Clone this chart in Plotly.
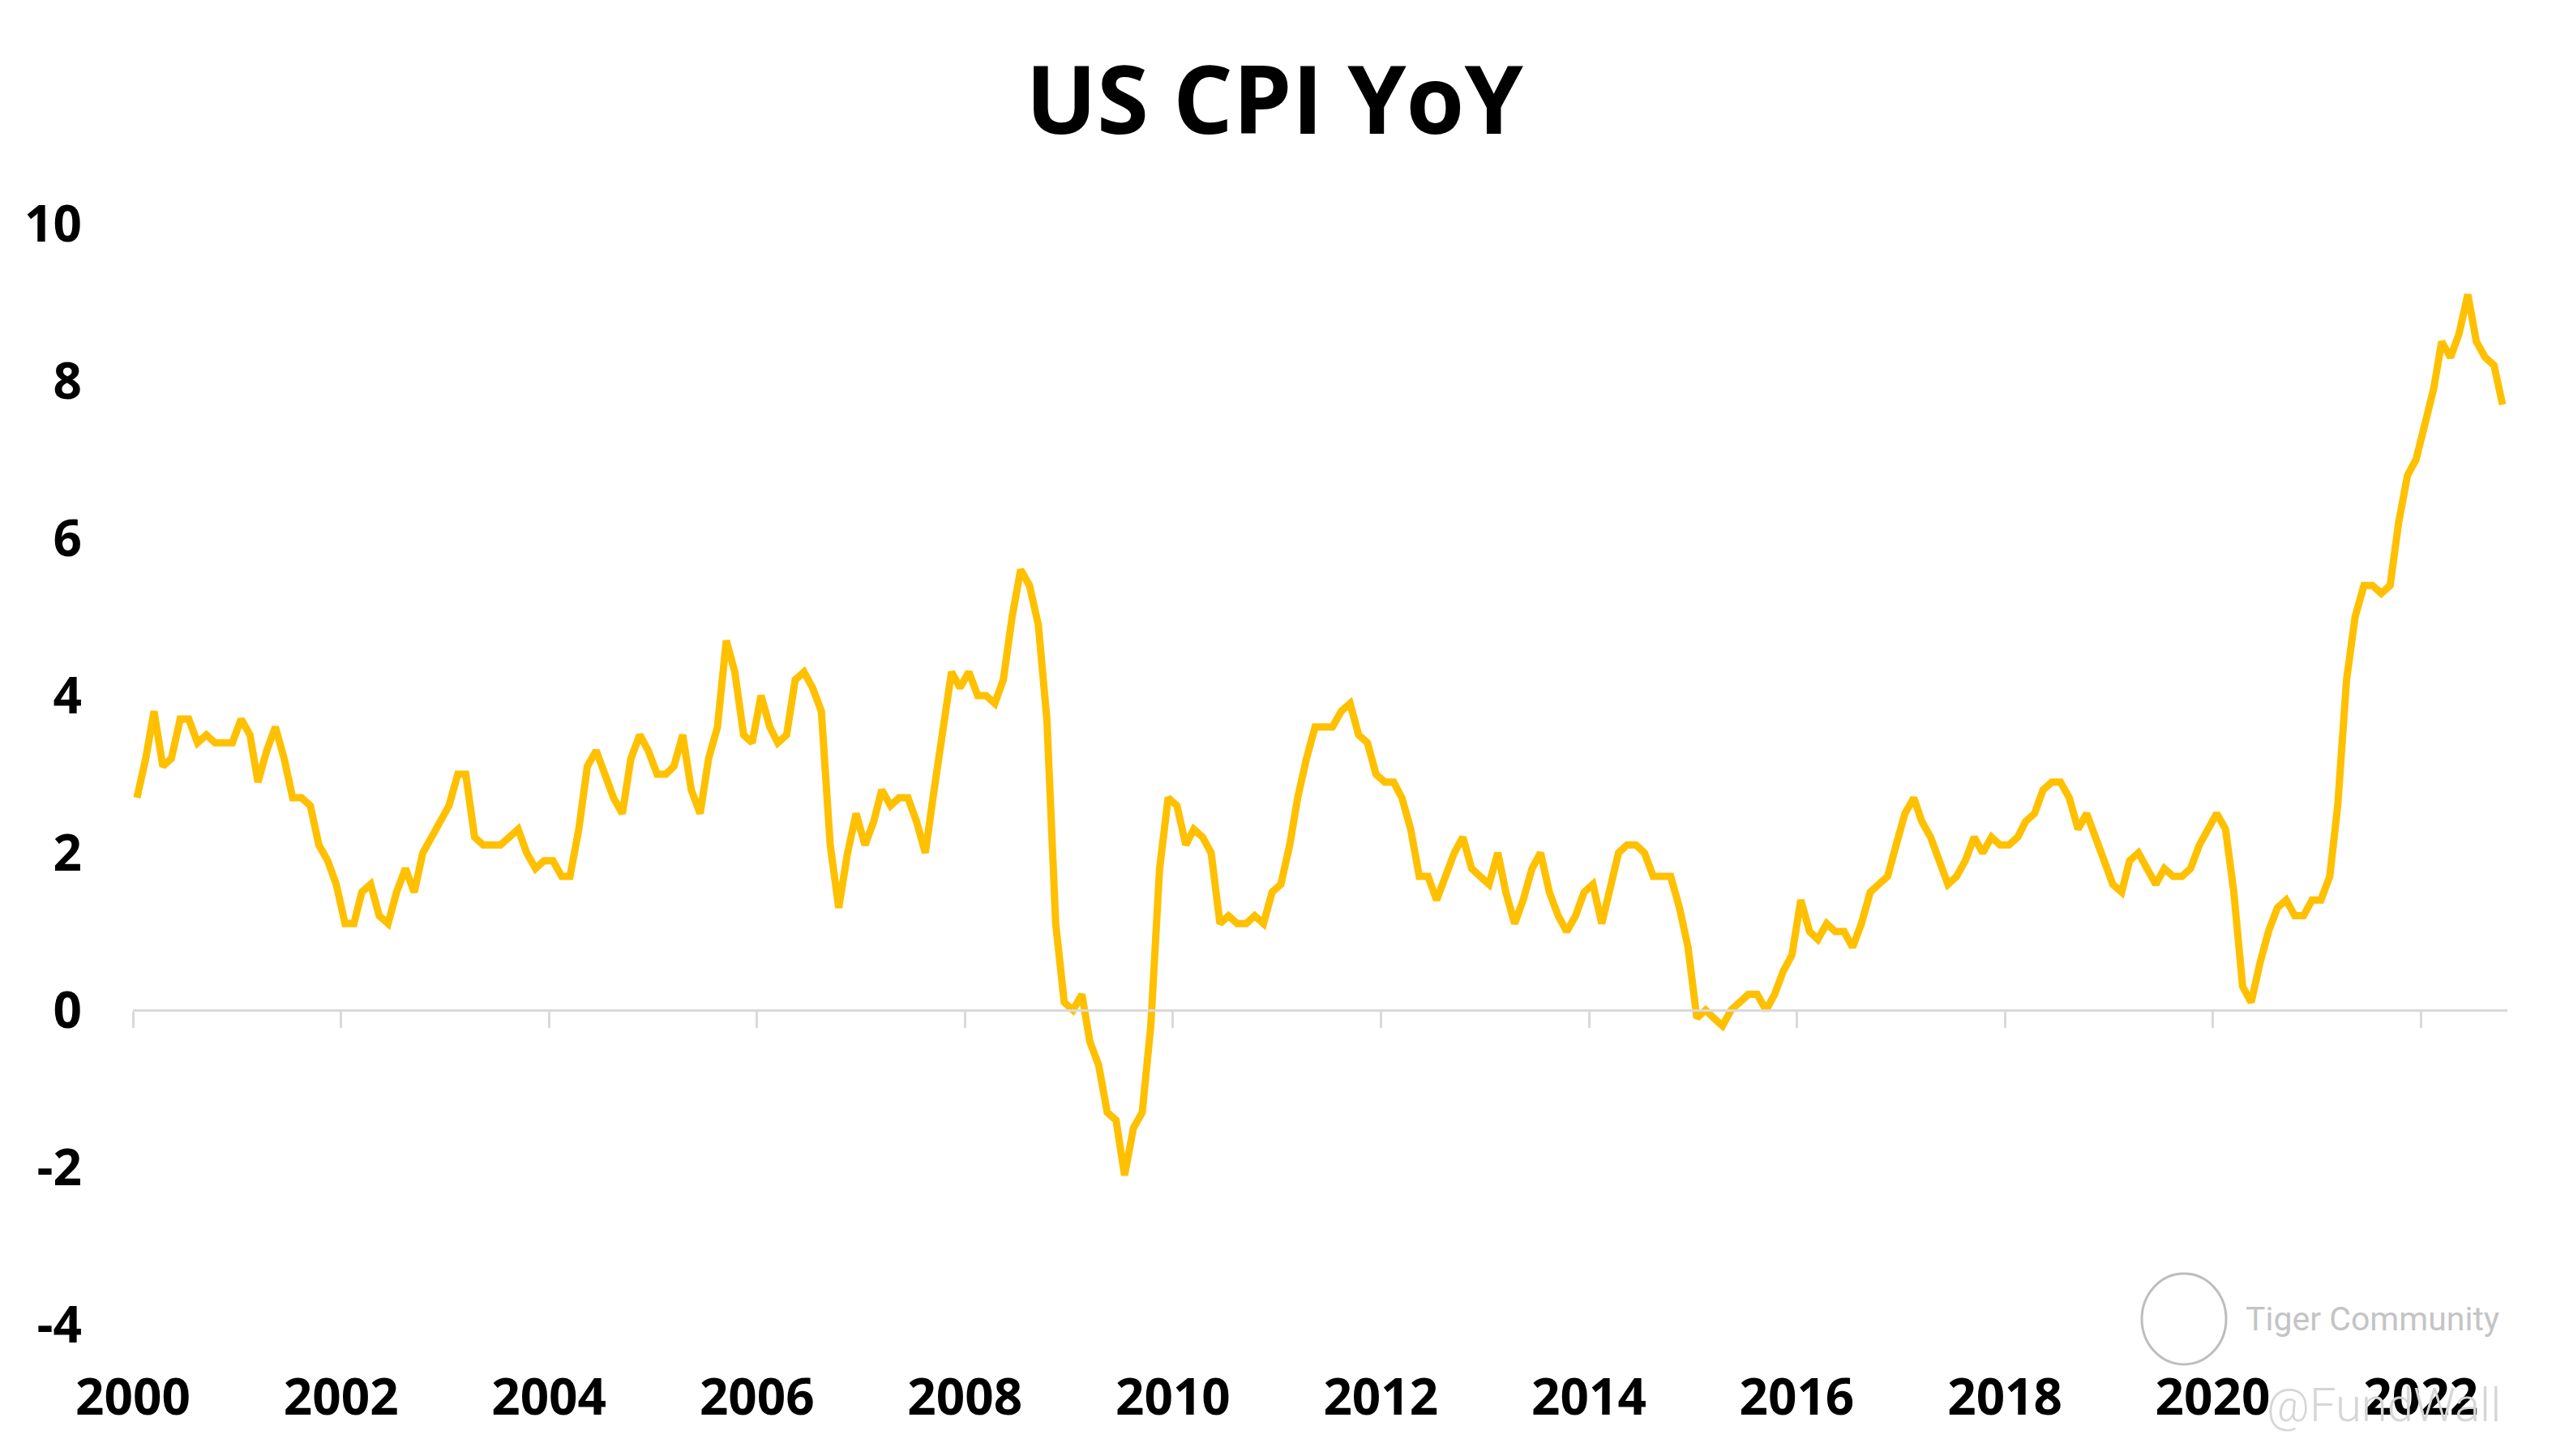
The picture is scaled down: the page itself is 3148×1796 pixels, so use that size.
import plotly.graph_objects as go

# US CPI YoY (%), monthly, Jan 2000 - Oct 2022
cpi_2000 = [2.7, 3.2, 3.8, 3.1, 3.2, 3.7, 3.7, 3.4, 3.5, 3.4, 3.4, 3.4]
cpi_2001 = [3.7, 3.5, 2.9, 3.3, 3.6, 3.2, 2.7, 2.7, 2.6, 2.1, 1.9, 1.6]
cpi_2002 = [1.1, 1.1, 1.5, 1.6, 1.2, 1.1, 1.5, 1.8, 1.5, 2.0, 2.2, 2.4]
cpi_2003 = [2.6, 3.0, 3.0, 2.2, 2.1, 2.1, 2.1, 2.2, 2.3, 2.0, 1.8, 1.9]
cpi_2004 = [1.9, 1.7, 1.7, 2.3, 3.1, 3.3, 3.0, 2.7, 2.5, 3.2, 3.5, 3.3]
cpi_2005 = [3.0, 3.0, 3.1, 3.5, 2.8, 2.5, 3.2, 3.6, 4.7, 4.3, 3.5, 3.4]
cpi_2006 = [4.0, 3.6, 3.4, 3.5, 4.2, 4.3, 4.1, 3.8, 2.1, 1.3, 2.0, 2.5]
cpi_2007 = [2.1, 2.4, 2.8, 2.6, 2.7, 2.7, 2.4, 2.0, 2.8, 3.5, 4.3, 4.1]
cpi_2008 = [4.3, 4.0, 4.0, 3.9, 4.2, 5.0, 5.6, 5.4, 4.9, 3.7, 1.1, 0.1]
cpi_2009 = [0.0, 0.2, -0.4, -0.7, -1.3, -1.4, -2.1, -1.5, -1.3, -0.2, 1.8, 2.7]
cpi_2010 = [2.6, 2.1, 2.3, 2.2, 2.0, 1.1, 1.2, 1.1, 1.1, 1.2, 1.1, 1.5]
cpi_2011 = [1.6, 2.1, 2.7, 3.2, 3.6, 3.6, 3.6, 3.8, 3.9, 3.5, 3.4, 3.0]
cpi_2012 = [2.9, 2.9, 2.7, 2.3, 1.7, 1.7, 1.4, 1.7, 2.0, 2.2, 1.8, 1.7]
cpi_2013 = [1.6, 2.0, 1.5, 1.1, 1.4, 1.8, 2.0, 1.5, 1.2, 1.0, 1.2, 1.5]
cpi_2014 = [1.6, 1.1, 1.5, 2.0, 2.1, 2.1, 2.0, 1.7, 1.7, 1.7, 1.3, 0.8]
cpi_2015 = [-0.1, 0.0, -0.1, -0.2, 0.0, 0.1, 0.2, 0.2, 0.0, 0.2, 0.5, 0.7]
cpi_2016 = [1.4, 1.0, 0.9, 1.1, 1.0, 1.0, 0.8, 1.1, 1.5, 1.6, 1.7, 2.1]
cpi_2017 = [2.5, 2.7, 2.4, 2.2, 1.9, 1.6, 1.7, 1.9, 2.2, 2.0, 2.2, 2.1]
cpi_2018 = [2.1, 2.2, 2.4, 2.5, 2.8, 2.9, 2.9, 2.7, 2.3, 2.5, 2.2, 1.9]
cpi_2019 = [1.6, 1.5, 1.9, 2.0, 1.8, 1.6, 1.8, 1.7, 1.7, 1.8, 2.1, 2.3]
cpi_2020 = [2.5, 2.3, 1.5, 0.3, 0.1, 0.6, 1.0, 1.3, 1.4, 1.2, 1.2, 1.4]
cpi_2021 = [1.4, 1.7, 2.6, 4.2, 5.0, 5.4, 5.4, 5.3, 5.4, 6.2, 6.8, 7.0]
cpi_2022 = [7.5, 7.9, 8.5, 8.3, 8.6, 9.1, 8.5, 8.3, 8.2, 7.7]

yearly = [cpi_2000, cpi_2001, cpi_2002, cpi_2003, cpi_2004, cpi_2005, cpi_2006,
          cpi_2007, cpi_2008, cpi_2009, cpi_2010, cpi_2011, cpi_2012, cpi_2013,
          cpi_2014, cpi_2015, cpi_2016, cpi_2017, cpi_2018, cpi_2019, cpi_2020,
          cpi_2021, cpi_2022]

values = []
months = []
for i, vals in enumerate(yearly):
    year = 2000 + i
    for m, v in enumerate(vals):
        months.append(f"{year}-{m + 1:02d}-15")
        values.append(v)

x_tick_vals = [f"{y}-01-01" for y in range(2000, 2023, 2)]
x_tick_text = [str(y) for y in range(2000, 2023, 2)]
y_tick_vals = [-4, -2, 0, 2, 4, 6, 8, 10]
y_tick_text = ["-4", "-2", "0", "2", "4", "6", "8", "10"]

x_range = ["2000-01-01", "2022-11-01"]
y_range = [-4, 10]

FONT = "Open Sans"

# plot-area geometry in page pixels (for watermark placement)
PX0, PX1, PY0, PY1 = 164, 3093, 276, 1634


def px(xp):
    return (xp - PX0) / (PX1 - PX0)


def py(yp):
    return (PY1 - yp) / (PY1 - PY0)


fig = go.Figure()
fig.add_trace(go.Scatter(
    x=months, y=values, mode="lines",
    line=dict(color="#FFC000", width=9),
    xaxis="x", yaxis="y", showlegend=False,
))
# invisible trace so the overlay axis (zero line with ticks) is rendered
fig.add_trace(go.Scatter(x=[months[0]], y=[values[0]], mode="lines",
                         xaxis="x2", yaxis="y", showlegend=False,
                         line=dict(width=0), hoverinfo="skip"))

fig.update_layout(
    width=3148, height=1796,
    paper_bgcolor="white", plot_bgcolor="white",
    margin=dict(l=156, r=63, t=268, b=170),
    title=dict(
        text="<b>US CPI YoY</b>",
        x=1564 / 3148, xanchor="center", xref="container",
        y=1 - 116 / 1796, yanchor="middle", yref="container",
        font=dict(family=FONT, size=116, color="black"),
    ),
    xaxis=dict(
        type="date", range=x_range,
        tickmode="array", tickvals=x_tick_vals, ticktext=x_tick_text,
        showgrid=False, showline=False, zeroline=False, ticks="",
        tickfont=dict(family=FONT, size=62, color="black", weight="bold"),
        ticklabelstandoff=48,
    ),
    xaxis2=dict(
        type="date", range=x_range, overlaying="x",
        anchor="free", position=(0 - y_range[0]) / (y_range[1] - y_range[0]),
        side="bottom",
        tickmode="array", tickvals=x_tick_vals,
        showticklabels=False, showgrid=False, zeroline=False,
        showline=True, linecolor="#D9D9D9", linewidth=3,
        ticks="outside", ticklen=20, tickwidth=3, tickcolor="#D9D9D9",
    ),
    yaxis=dict(
        range=y_range,
        tickmode="array", tickvals=y_tick_vals, ticktext=y_tick_text,
        showgrid=False, showline=False, zeroline=False, ticks="",
        tickfont=dict(family=FONT, size=62, color="black", weight="bold"),
        ticklabelstandoff=62,
    ),
)

# watermark
fig.add_shape(type="circle", xref="paper", yref="paper",
              x0=px(2642), x1=px(2746), y0=py(1683), y1=py(1571),
              line=dict(color="#BDBDBD", width=3), layer="below")
fig.add_annotation(text="Tiger Community", xref="paper", yref="paper",
                   x=px(2926), y=py(1627),
                   xanchor="center", yanchor="middle", showarrow=False,
                   font=dict(family="Roboto", size=41, color="#C4C4C4"))
fig.add_annotation(text="@FundWall", xref="paper", yref="paper",
                   x=px(2940), y=py(1733),
                   xanchor="center", yanchor="middle", showarrow=False,
                   font=dict(family="Roboto", size=58, color="#D6D6D6",
                             weight=300))

fig.write_html("out.html")
